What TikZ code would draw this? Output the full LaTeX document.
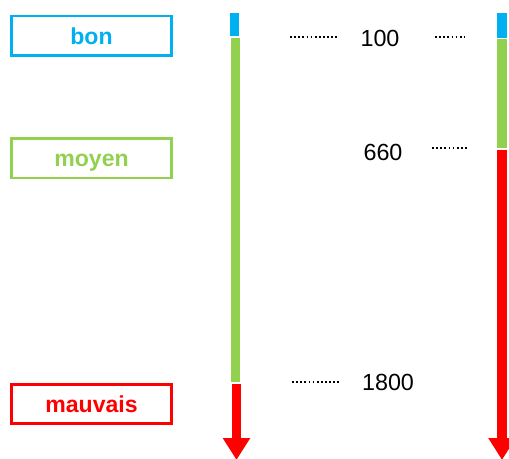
\documentclass[tikz,border=0pt]{standalone}
\usepackage{fontspec}
\setmainfont{Liberation Sans}
\usetikzlibrary{arrows.meta}
\definecolor{bonblue}{HTML}{00B0F0}
\definecolor{moyengreen}{HTML}{92D050}
\definecolor{mauvaisred}{HTML}{FF0000}
\begin{document}
\begin{tikzpicture}[x=0.75pt,y=-0.75pt,
  every node/.style={font=\fontsize{17.5}{20}\selectfont},
  classbox/.style={rectangle,draw=#1,text=#1,line width=2pt,minimum width=120pt,minimum height=29.5pt,inner sep=0pt,text height=12.5pt,text depth=0pt,font=\fontsize{17.3}{20}\selectfont\bfseries},
  bar/.style={draw=#1,line width=6.9pt,line cap=butt},
  bararrow/.style={bar=#1,-{Triangle[width=19.5pt,length=16.5pt]}},
  dots/.style={line width=1.5pt,dash pattern=on 1.3pt off 1.8pt}]
\useasboundingbox (0,0) rectangle (509,459);
\node[classbox=bonblue] (bon) at (91.5,35.8) {bon};
\node[classbox=moyengreen] (moyen) at (91.5,158.5) {moyen};
\node[classbox=mauvaisred] (mauvais) at (91.5,404) {mauvais};
\coordinate (lb1) at (234.5,13);
\coordinate (lb2) at (234.5,36);
\coordinate (lg1) at (235.5,38.5);
\coordinate (lg2) at (235.5,381.5);
\coordinate (lr1) at (236.5,384);
\coordinate (lr2) at (236.5,460);
\draw[bar=bonblue] (lb1) -- (lb2);
\draw[bar=moyengreen] (lg1) -- (lg2);
\draw[bararrow=mauvaisred] (lr1) -- (lr2);
\coordinate (rb1) at (502,13.3);
\coordinate (rb2) at (502,37.7);
\coordinate (rg1) at (502,39.3);
\coordinate (rg2) at (502,147.7);
\coordinate (rr1) at (502,149.7);
\coordinate (rr2) at (502,460);
\draw[bar=bonblue] (rb1) -- (rb2);
\draw[bar=moyengreen] (rg1) -- (rg2);
\draw[bararrow=mauvaisred] (rr1) -- (rr2);
\node (s100) at (380,38) {100};
\node (s660) at (383,152) {660};
\node (s1800) at (388,382) {1800};
\coordinate (d100a) at (290,37);
\coordinate (d100b) at (338,37);
\coordinate (d100c) at (435,37);
\coordinate (d100d) at (464,37);
\coordinate (d660a) at (432,148);
\coordinate (d660b) at (467,148);
\coordinate (d1800a) at (292,382);
\coordinate (d1800b) at (339,382);
\draw[dots] (d100a) -- (d100b);
\draw[dots] (d100c) -- (d100d);
\draw[dots] (d660a) -- (d660b);
\draw[dots] (d1800a) -- (d1800b);
\end{tikzpicture}
\end{document}
